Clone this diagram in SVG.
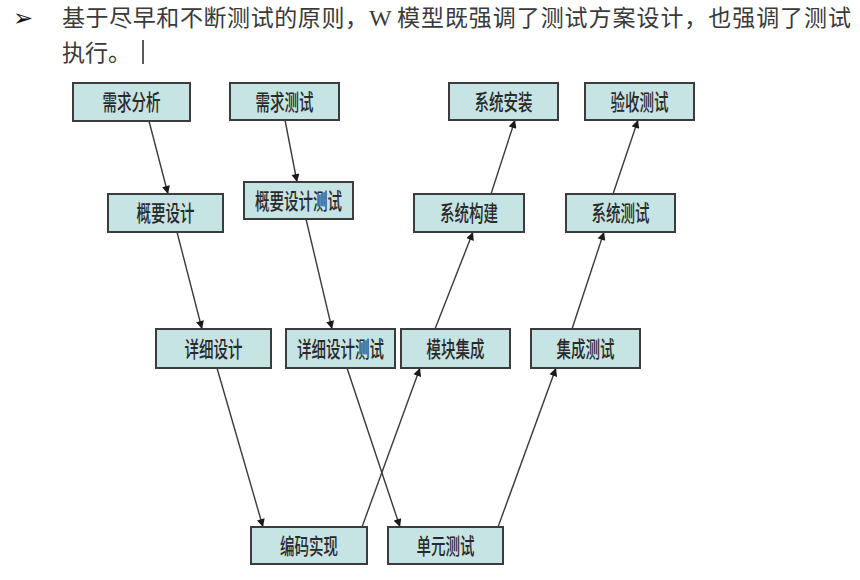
<svg xmlns="http://www.w3.org/2000/svg" width="860" height="580" viewBox="0 0 860 580">
<defs>
<marker id="ah" viewBox="0 0 10 10" refX="10" refY="5" markerWidth="9" markerHeight="8" markerUnits="userSpaceOnUse" orient="auto">
<path d="M0,0 L10,5 L0,10 z" fill="#1a1a1a"/>
</marker>
<style>
.hd{font-family:"Noto Sans CJK SC","Liberation Serif",serif;font-size:23px;fill:#3a3a3a;}
.box rect{fill:#c6e4e4;stroke:#3c3c3c;stroke-width:2;}
.box text{font-family:"Noto Sans CJK SC","Liberation Sans",sans-serif;font-size:22px;font-weight:500;fill:#2a2a2a;text-anchor:middle;}
.conn line{stroke:#3a3a3a;stroke-width:1.4;marker-end:url(#ah);}
</style>
</defs>
<rect width="860" height="580" fill="#ffffff"/>
<g id="header">
<text x="13" y="26" font-family="DejaVu Sans, sans-serif" font-size="24" fill="#111">➢</text>
<text class="hd" x="62" y="26" textLength="306" lengthAdjust="spacing">基于尽早和不断测试的原则，</text>
<text x="369" y="26" font-family="Liberation Serif, serif" font-size="24" fill="#3a3a3a">W</text>
<text class="hd" x="397" y="26" textLength="454" lengthAdjust="spacing">模型既强调了测试方案设计，也强调了测试</text>
<text class="hd" x="62" y="61">执行。</text>
<line x1="143" y1="40" x2="143" y2="64" stroke="#222" stroke-width="1.5"/>
</g>
<g class="conn" id="connectors">
<line x1="149" y1="121" x2="168" y2="194"/>
<line x1="285" y1="120" x2="297" y2="182"/>
<line x1="177" y1="232" x2="202" y2="329"/>
<line x1="306" y1="219" x2="332" y2="329"/>
<line x1="217" y1="368" x2="263" y2="527"/>
<line x1="347" y1="368" x2="400" y2="527"/>
<line x1="362" y1="527" x2="420" y2="368"/>
<line x1="498" y1="527" x2="556" y2="368"/>
<line x1="435" y1="329" x2="473" y2="232"/>
<line x1="572" y1="329" x2="604" y2="232"/>
<line x1="491" y1="194" x2="515" y2="120"/>
<line x1="613" y1="194" x2="638" y2="120"/>
</g>
<g class="box" id="n1"><rect x="73" y="83" width="117" height="38"/><text x="131.5" y="110" textLength="58" lengthAdjust="spacingAndGlyphs">需求分析</text></g>
<g class="box" id="n2"><rect x="230" y="83" width="109" height="37"/><text x="284.5" y="109.5" textLength="58" lengthAdjust="spacingAndGlyphs">需求测试</text></g>
<g class="box" id="n3"><rect x="449" y="83" width="109" height="37"/><text x="503.5" y="109.5" textLength="58" lengthAdjust="spacingAndGlyphs">系统安装</text></g>
<g class="box" id="n4"><rect x="585" y="83" width="109" height="37"/><text x="639.5" y="109.5" textLength="58" lengthAdjust="spacingAndGlyphs">验收测试</text></g>
<g class="box" id="n5"><rect x="108" y="194" width="115" height="38"/><text x="165.5" y="221" textLength="58" lengthAdjust="spacingAndGlyphs">概要设计</text></g>
<g class="box" id="n6"><rect x="244" y="182" width="109" height="37"/><text x="298.5" y="208.5" textLength="87" lengthAdjust="spacingAndGlyphs">概要设计测试</text></g>
<g class="box" id="n7"><rect x="414" y="194" width="110" height="38"/><text x="469" y="221" textLength="58" lengthAdjust="spacingAndGlyphs">系统构建</text></g>
<g class="box" id="n8"><rect x="566" y="194" width="109" height="38"/><text x="620.5" y="221" textLength="58" lengthAdjust="spacingAndGlyphs">系统测试</text></g>
<g class="box" id="n9"><rect x="156" y="329" width="115" height="39"/><text x="213.5" y="356.5" textLength="58" lengthAdjust="spacingAndGlyphs">详细设计</text></g>
<g class="box" id="n10"><rect x="286" y="329" width="109" height="39"/><text x="340.5" y="356.5" textLength="87" lengthAdjust="spacingAndGlyphs">详细设计测试</text></g>
<g class="box" id="n11"><rect x="401" y="329" width="109" height="39"/><text x="455.5" y="356.5" textLength="58" lengthAdjust="spacingAndGlyphs">模块集成</text></g>
<g class="box" id="n12"><rect x="531" y="329" width="109" height="39"/><text x="585.5" y="356.5" textLength="58" lengthAdjust="spacingAndGlyphs">集成测试</text></g>
<g class="box" id="n13"><rect x="251" y="527" width="116" height="37"/><text x="309" y="553.5" textLength="58" lengthAdjust="spacingAndGlyphs">编码实现</text></g>
<g class="box" id="n14"><rect x="388" y="527" width="115" height="37"/><text x="445.5" y="553.5" textLength="58" lengthAdjust="spacingAndGlyphs">单元测试</text></g>
</svg>
